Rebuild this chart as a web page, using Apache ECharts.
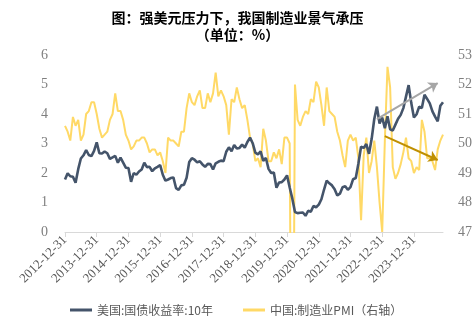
<!DOCTYPE html>
<html>
<head>
<meta charset="utf-8">
<script src="https://cdn.jsdelivr.net/npm/echarts@6/dist/echarts.min.js"></script>
<style>html,body{margin:0;padding:0;background:#fff}#c{width:475px;height:322px}</style>
</head>
<body>
<div id="c"></div>
<script>
// Month-end categories from 2012-12 to 2024-11
const categories = [];
for (let y = 2012; y <= 2024; y++) {
  for (let m = 1; m <= 12; m++) {
    if (y === 2012 && m < 12) continue;
    if (y === 2024 && m > 11) continue;
    categories.push(y + '-' + String(m).padStart(2, '0'));
  }
}
const tickLabels = ['2012-12-31','2013-12-31','2014-12-31','2015-12-31','2016-12-31','2017-12-31','2018-12-31','2019-12-31','2020-12-31','2021-12-31','2022-12-31','2023-12-31'];

// 美国:国债收益率:10年 (%)
const us10y = [
  1.78,
  1.99,1.89,1.87,1.67,2.13,2.49,2.60,2.78,2.61,2.57,2.75,3.04,
  2.67,2.66,2.73,2.67,2.48,2.53,2.58,2.35,2.52,2.35,2.18,2.17,
  1.70,2.00,1.94,2.05,2.12,2.35,2.20,2.21,2.06,2.16,2.21,2.27,
  1.94,1.74,1.78,1.83,1.85,1.49,1.43,1.58,1.60,1.84,2.37,2.50,
  2.45,2.36,2.40,2.29,2.21,2.31,2.30,2.12,2.33,2.38,2.42,2.40,
  2.72,2.87,2.74,2.95,2.83,2.85,2.96,2.86,3.05,3.20,3.01,2.69,
  2.63,2.73,2.41,2.51,2.14,2.00,2.02,1.50,1.68,1.69,1.78,1.92,
  1.51,1.13,0.68,0.64,0.65,0.66,0.55,0.72,0.69,0.88,0.84,0.93,
  1.11,1.44,1.74,1.65,1.58,1.45,1.24,1.30,1.52,1.55,1.43,1.52,
  1.79,1.83,2.32,2.89,2.85,2.98,2.65,3.15,3.83,4.25,3.68,3.88,
  3.52,3.92,3.48,3.44,3.64,3.84,3.97,4.20,4.59,4.98,4.37,3.88,
  3.99,4.25,4.20,4.65,4.51,4.36,4.09,3.91,3.75,4.28,4.40
];

// 中国:制造业PMI (右轴)
const pmi = [
  50.6,
  50.4,50.1,50.9,50.6,50.8,50.1,50.3,51.0,51.1,51.4,51.4,51.0,
  50.5,50.2,50.3,50.4,50.8,51.0,51.7,51.1,51.1,50.8,50.3,50.1,
  49.8,49.9,50.1,50.1,50.2,50.2,50.0,49.7,49.8,49.8,49.6,49.7,
  49.4,49.0,50.2,50.1,50.1,50.0,49.9,50.4,50.4,51.2,51.7,51.4,
  51.3,51.6,51.8,51.2,51.2,51.7,51.4,51.7,52.4,51.6,51.8,51.6,
  51.3,50.3,51.5,51.4,51.9,51.5,51.2,51.3,50.8,50.2,50.0,49.4,
  49.5,49.2,50.5,50.1,49.4,49.4,49.7,49.5,49.8,49.3,50.2,50.2,
  50.0,35.7,52.0,50.8,50.6,50.9,51.1,51.0,51.5,51.4,52.1,51.9,
  51.3,50.6,51.9,51.1,51.0,50.9,50.4,50.1,49.6,49.2,50.1,50.3,
  50.1,50.2,49.5,47.4,49.6,50.2,49.0,49.4,50.1,49.2,48.0,47.0,
  50.1,52.6,51.9,49.2,48.8,49.0,49.3,49.7,50.2,49.5,49.4,49.0,
  49.2,49.1,50.8,50.4,49.5,49.5,49.4,49.1,49.8,50.1,50.3
];

// Trend arrows: [start category, start value], [end category, end value]
const usArrow = [['2022-10', 3.83], ['2024-09', 5.05]];
const pmiArrow = [['2023-01', 50.25], ['2024-09', 49.44]];

const serif = '"Liberation Serif", "Times New Roman", serif';
const cjk = '"Noto Sans CJK SC", sans-serif';
const isDec = (idx, val) => val.endsWith('-12');

const chart = echarts.init(document.getElementById('c'), null, {renderer: 'canvas'});
chart.setOption({
  animation: false,
  backgroundColor: '#ffffff',
  title: {
    text: '图：强美元压力下，我国制造业景气承压\n（单位：%）',
    left: 'center',
    top: 4,
    textStyle: {fontFamily: cjk, fontSize: 14, fontWeight: 'bold', color: '#000', lineHeight: 17}
  },
  legend: {
    bottom: 1,
    left: 65,
    itemGap: 30,
    itemWidth: 22,
    itemHeight: 3,
    icon: 'rect',
    textStyle: {fontFamily: cjk, fontSize: 12, color: '#595959'},
    data: ['美国:国债收益率:10年', '中国:制造业PMI（右轴）']
  },
  grid: {left: 65, right: 28, top: 55, bottom: 90},
  xAxis: {
    type: 'category',
    data: categories,
    boundaryGap: false,
    axisLine: {lineStyle: {color: '#d9d9d9'}},
    axisTick: {interval: isDec, length: 5, lineStyle: {color: '#d9d9d9'}},
    axisLabel: {
      interval: isDec,
      rotate: 45,
      fontFamily: serif,
      fontSize: 13,
      color: '#595959',
      margin: 6,
      formatter: (val) => tickLabels[categories.indexOf(val) / 12 | 0]
    },
    splitLine: {show: false}
  },
  yAxis: [
    {
      type: 'value', min: 0, max: 6, interval: 1,
      axisLine: {show: false}, axisTick: {show: false}, splitLine: {show: false},
      axisLabel: {fontFamily: serif, fontSize: 14, color: '#7f7f7f', margin: 17}
    },
    {
      type: 'value', min: 47, max: 53, interval: 1,
      axisLine: {show: false}, axisTick: {show: false}, splitLine: {show: false},
      axisLabel: {fontFamily: serif, fontSize: 14, color: '#7f7f7f', margin: 15}
    }
  ],
  series: [
    {
      name: '美国:国债收益率:10年',
      type: 'line',
      data: us10y,
      yAxisIndex: 0,
      showSymbol: false,
      symbol: 'none',
      z: 3,
      lineStyle: {color: '#44546a', width: 2.6},
      itemStyle: {color: '#44546a'},
      markLine: {
        silent: true,
        symbol: ['none', 'arrow'],
        symbolSize: 9,
        label: {show: false},
        lineStyle: {color: '#a6a6a6', width: 2, type: 'solid'},
        data: [[{coord: usArrow[0]}, {coord: usArrow[1]}]]
      }
    },
    {
      name: '中国:制造业PMI（右轴）',
      type: 'line',
      data: pmi,
      yAxisIndex: 1,
      showSymbol: false,
      symbol: 'none',
      z: 2,
      clip: true,
      lineStyle: {color: '#ffd966', width: 2},
      itemStyle: {color: '#ffd966'},
      markLine: {
        silent: true,
        symbol: ['none', 'arrow'],
        symbolSize: 9,
        label: {show: false},
        lineStyle: {color: '#bf8f00', width: 2, type: 'solid'},
        data: [[{coord: pmiArrow[0]}, {coord: pmiArrow[1]}]]
      }
    }
  ]
});
</script>
</body>
</html>
